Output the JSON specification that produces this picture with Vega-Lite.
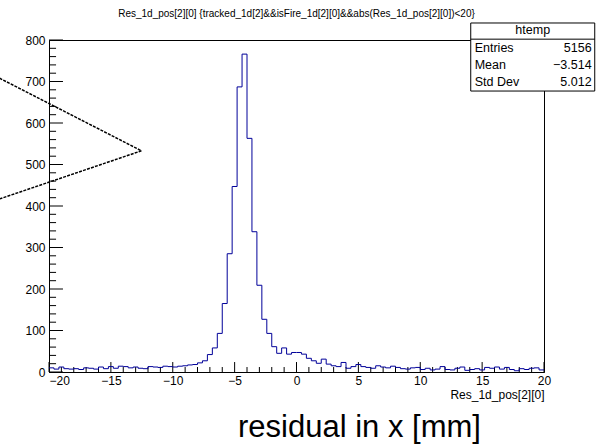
{
  "$schema": "https://vega.github.io/schema/vega-lite/v6.json",
  "autosize": {"type": "none"},
  "width": 495,
  "height": 332,
  "padding": {"left": 49, "top": 40, "right": 52, "bottom": 74},
  "background": "white",
  "title": {
    "text": "Res_1d_pos[2][0] {tracked_1d[2]&&isFire_1d[2][0]&&abs(Res_1d_pos[2][0])<20}",
    "frame": "group",
    "anchor": "middle",
    "fontSize": 10,
    "fontWeight": "normal",
    "font": "Liberation Sans",
    "color": "black",
    "offset": 3
  },
  "config": {
    "view": {"stroke": "black", "strokeWidth": 1},
    "axis": {
      "grid": false,
      "domainColor": "black",
      "labelColor": "black",
      "titleColor": "black",
      "labelFont": "Liberation Sans",
      "titleFont": "Liberation Sans",
      "titleFontWeight": "normal"
    }
  },
  "datasets": {
    "hist": [
      {"x": -20.0, "n": 10}, {"x": -19.6, "n": 7}, {"x": -19.2, "n": 12}, {"x": -18.8, "n": 8}, {"x": -18.4, "n": 7},
      {"x": -18.0, "n": 8}, {"x": -17.6, "n": 6}, {"x": -17.2, "n": 10}, {"x": -16.8, "n": 9}, {"x": -16.4, "n": 7},
      {"x": -16.0, "n": 12}, {"x": -15.6, "n": 8}, {"x": -15.2, "n": 13}, {"x": -14.8, "n": 9}, {"x": -14.4, "n": 14},
      {"x": -14.0, "n": 13}, {"x": -13.6, "n": 10}, {"x": -13.2, "n": 12}, {"x": -12.8, "n": 9}, {"x": -12.4, "n": 8},
      {"x": -12.0, "n": 13}, {"x": -11.6, "n": 12}, {"x": -11.2, "n": 11}, {"x": -10.8, "n": 14}, {"x": -10.4, "n": 13},
      {"x": -10.0, "n": 12}, {"x": -9.6, "n": 14}, {"x": -9.2, "n": 15}, {"x": -8.8, "n": 17}, {"x": -8.4, "n": 18},
      {"x": -8.0, "n": 22}, {"x": -7.6, "n": 27}, {"x": -7.2, "n": 42}, {"x": -6.8, "n": 58}, {"x": -6.4, "n": 93},
      {"x": -6.0, "n": 165}, {"x": -5.6, "n": 285}, {"x": -5.2, "n": 447}, {"x": -4.8, "n": 687}, {"x": -4.4, "n": 766},
      {"x": -4.0, "n": 563}, {"x": -3.6, "n": 338}, {"x": -3.2, "n": 209}, {"x": -2.8, "n": 127}, {"x": -2.4, "n": 93},
      {"x": -2.0, "n": 61}, {"x": -1.6, "n": 45}, {"x": -1.2, "n": 58}, {"x": -0.8, "n": 43}, {"x": -0.4, "n": 47},
      {"x": 0.0, "n": 47}, {"x": 0.4, "n": 43}, {"x": 0.8, "n": 33}, {"x": 1.2, "n": 27}, {"x": 1.6, "n": 21},
      {"x": 2.0, "n": 31}, {"x": 2.4, "n": 19}, {"x": 2.8, "n": 15}, {"x": 3.2, "n": 13}, {"x": 3.6, "n": 23},
      {"x": 4.0, "n": 9}, {"x": 4.4, "n": 13}, {"x": 4.8, "n": 18}, {"x": 5.2, "n": 13}, {"x": 5.6, "n": 11},
      {"x": 6.0, "n": 9}, {"x": 6.4, "n": 15}, {"x": 6.8, "n": 12}, {"x": 7.2, "n": 10}, {"x": 7.6, "n": 14},
      {"x": 8.0, "n": 11}, {"x": 8.4, "n": 8}, {"x": 8.8, "n": 7}, {"x": 9.2, "n": 10}, {"x": 9.6, "n": 11},
      {"x": 10.0, "n": 6}, {"x": 10.4, "n": 9}, {"x": 10.8, "n": 5}, {"x": 11.2, "n": 7}, {"x": 11.6, "n": 13},
      {"x": 12.0, "n": 6}, {"x": 12.4, "n": 5}, {"x": 12.8, "n": 9}, {"x": 13.2, "n": 12}, {"x": 13.6, "n": 4},
      {"x": 14.0, "n": 6}, {"x": 14.4, "n": 8}, {"x": 14.8, "n": 5}, {"x": 15.2, "n": 11}, {"x": 15.6, "n": 9},
      {"x": 16.0, "n": 12}, {"x": 16.4, "n": 7}, {"x": 16.8, "n": 11}, {"x": 17.2, "n": 6}, {"x": 17.6, "n": 3},
      {"x": 18.0, "n": 8}, {"x": 18.4, "n": 6}, {"x": 18.8, "n": 9}, {"x": 19.2, "n": 10}, {"x": 19.6, "n": 5},
      {"x": 20.0, "n": 5}
    ],
    "arrow": [
      {"seg": "upper", "x": -24, "y": 708},
      {"seg": "upper", "x": -12.53, "y": 533},
      {"seg": "lower", "x": -24, "y": 417},
      {"seg": "lower", "x": -12.53, "y": 533}
    ],
    "box": [
      {"x1": 14.08, "x2": 24.1, "y1": 841, "y2": 677, "ysep": 802}
    ],
    "stats": [
      {"label": "Entries", "value": "5156", "y": 780},
      {"label": "Mean", "value": "−3.514", "y": 740},
      {"label": "Std Dev", "value": "5.012", "y": 700}
    ],
    "head": [
      {"label": "htemp", "y": 824}
    ],
    "xmajor": [
      {"v": -20}, {"v": -15}, {"v": -10}, {"v": -5}, {"v": 0}, {"v": 5}, {"v": 10}, {"v": 15}, {"v": 20}
    ],
    "xminor": [
      {"v": -19}, {"v": -18}, {"v": -17}, {"v": -16}, {"v": -14}, {"v": -13}, {"v": -12}, {"v": -11},
      {"v": -9}, {"v": -8}, {"v": -7}, {"v": -6}, {"v": -4}, {"v": -3}, {"v": -2}, {"v": -1},
      {"v": 1}, {"v": 2}, {"v": 3}, {"v": 4}, {"v": 6}, {"v": 7}, {"v": 8}, {"v": 9},
      {"v": 11}, {"v": 12}, {"v": 13}, {"v": 14}, {"v": 16}, {"v": 17}, {"v": 18}, {"v": 19}
    ],
    "ymajor": [
      {"v": 0}, {"v": 100}, {"v": 200}, {"v": 300}, {"v": 400}, {"v": 500}, {"v": 600}, {"v": 700}, {"v": 800}
    ],
    "yminor": [
      {"v": 20}, {"v": 40}, {"v": 60}, {"v": 80}, {"v": 120}, {"v": 140}, {"v": 160}, {"v": 180},
      {"v": 220}, {"v": 240}, {"v": 260}, {"v": 280}, {"v": 320}, {"v": 340}, {"v": 360}, {"v": 380},
      {"v": 420}, {"v": 440}, {"v": 460}, {"v": 480}, {"v": 520}, {"v": 540}, {"v": 560}, {"v": 580},
      {"v": 620}, {"v": 640}, {"v": 660}, {"v": 680}, {"v": 720}, {"v": 740}, {"v": 760}, {"v": 780}
    ]
  },
  "layer": [
    {
      "data": {"name": "xmajor"},
      "mark": {"type": "rule", "color": "black", "strokeWidth": 1},
      "encoding": {
        "x": {"field": "v", "type": "quantitative", "axis": null},
        "y": {"datum": 0, "type": "quantitative", "axis": null},
        "y2": {"datum": 24}
      }
    },
    {
      "data": {"name": "xminor"},
      "mark": {"type": "rule", "color": "black", "strokeWidth": 1},
      "encoding": {
        "x": {"field": "v", "type": "quantitative", "axis": null},
        "y": {"datum": 0, "type": "quantitative", "axis": null},
        "y2": {"datum": 12}
      }
    },
    {
      "data": {"name": "ymajor"},
      "mark": {"type": "rule", "color": "black", "strokeWidth": 1},
      "encoding": {
        "y": {"field": "v", "type": "quantitative", "axis": null},
        "x": {"datum": -20, "type": "quantitative", "axis": null},
        "x2": {"datum": -18.87}
      }
    },
    {
      "data": {"name": "yminor"},
      "mark": {"type": "rule", "color": "black", "strokeWidth": 1},
      "encoding": {
        "y": {"field": "v", "type": "quantitative", "axis": null},
        "x": {"datum": -20, "type": "quantitative", "axis": null},
        "x2": {"datum": -19.43}
      }
    },
    {
      "data": {"name": "hist"},
      "mark": {"type": "line", "interpolate": "step-after", "color": "#000099", "strokeWidth": 1, "clip": false},
      "encoding": {
        "x": {
          "field": "x", "type": "quantitative",
          "scale": {"domain": [-20, 20], "nice": false, "zero": false},
          "axis": {
            "orient": "bottom",
            "values": [-20, -15, -10, -5, 0, 5, 10, 15, 20],
            "format": "d",
            "ticks": false,
            "labelPadding": 3,
            "labelFontSize": 12,
            "labelOverlap": false,
            "labelAlign": {"condition": {"test": "datum.value <= -20", "value": "left"}, "value": "center"},
            "title": "Res_1d_pos[2][0]",
            "titleFontSize": 12,
            "titleAnchor": "end",
            "titleAlign": "right",
            "titlePadding": 3
          }
        },
        "y": {
          "field": "n", "type": "quantitative",
          "scale": {"domain": [0, 800], "nice": false, "zero": false},
          "axis": {
            "orient": "left",
            "values": [0, 100, 200, 300, 400, 500, 600, 700, 800],
            "format": "d",
            "ticks": false,
            "labelPadding": 4,
            "labelFontSize": 12,
            "labelOverlap": false,
            "title": null
          }
        }
      }
    },
    {
      "data": {"name": "arrow"},
      "mark": {"type": "line", "color": "black", "strokeWidth": 1.5, "strokeDash": [3, 1.2], "clip": false},
      "encoding": {
        "x": {
          "field": "x", "type": "quantitative",
          "axis": {
            "orient": "bottom",
            "ticks": false,
            "labels": false,
            "domain": false,
            "title": "residual in x [mm]",
            "titleFontSize": 31,
            "titleX": 310,
            "titleY": 64,
            "titleBaseline": "alphabetic",
            "titleAlign": "center"
          }
        },
        "y": {"field": "y", "type": "quantitative", "axis": null},
        "detail": {"field": "seg"}
      }
    },
    {
      "data": {"name": "box"},
      "mark": {"type": "rect", "fill": "white", "stroke": "black", "strokeWidth": 1, "clip": false},
      "encoding": {
        "x": {"field": "x1", "type": "quantitative", "axis": null},
        "x2": {"field": "x2"},
        "y": {"field": "y1", "type": "quantitative", "axis": null},
        "y2": {"field": "y2"}
      }
    },
    {
      "data": {"name": "box"},
      "mark": {"type": "rule", "color": "black", "strokeWidth": 1, "clip": false},
      "encoding": {
        "x": {"field": "x1", "type": "quantitative", "axis": null},
        "x2": {"field": "x2"},
        "y": {"field": "ysep", "type": "quantitative", "axis": null}
      }
    },
    {
      "data": {"name": "head"},
      "mark": {"type": "text", "font": "Liberation Sans", "fontSize": 12.5, "color": "black", "align": "center", "baseline": "middle", "clip": false},
      "encoding": {
        "x": {"datum": 19.09, "type": "quantitative", "axis": null},
        "y": {"field": "y", "type": "quantitative", "axis": null},
        "text": {"field": "label"}
      }
    },
    {
      "data": {"name": "stats"},
      "mark": {"type": "text", "font": "Liberation Sans", "fontSize": 12.5, "color": "black", "align": "left", "baseline": "middle", "clip": false},
      "encoding": {
        "x": {"datum": 14.4, "type": "quantitative", "axis": null},
        "y": {"field": "y", "type": "quantitative", "axis": null},
        "text": {"field": "label"}
      }
    },
    {
      "data": {"name": "stats"},
      "mark": {"type": "text", "font": "Liberation Sans", "fontSize": 12.5, "color": "black", "align": "right", "baseline": "middle", "clip": false},
      "encoding": {
        "x": {"datum": 23.85, "type": "quantitative", "axis": null},
        "y": {"field": "y", "type": "quantitative", "axis": null},
        "text": {"field": "value"}
      }
    }
  ],
  "resolve": {"axis": {"x": "independent", "y": "independent"}}
}
